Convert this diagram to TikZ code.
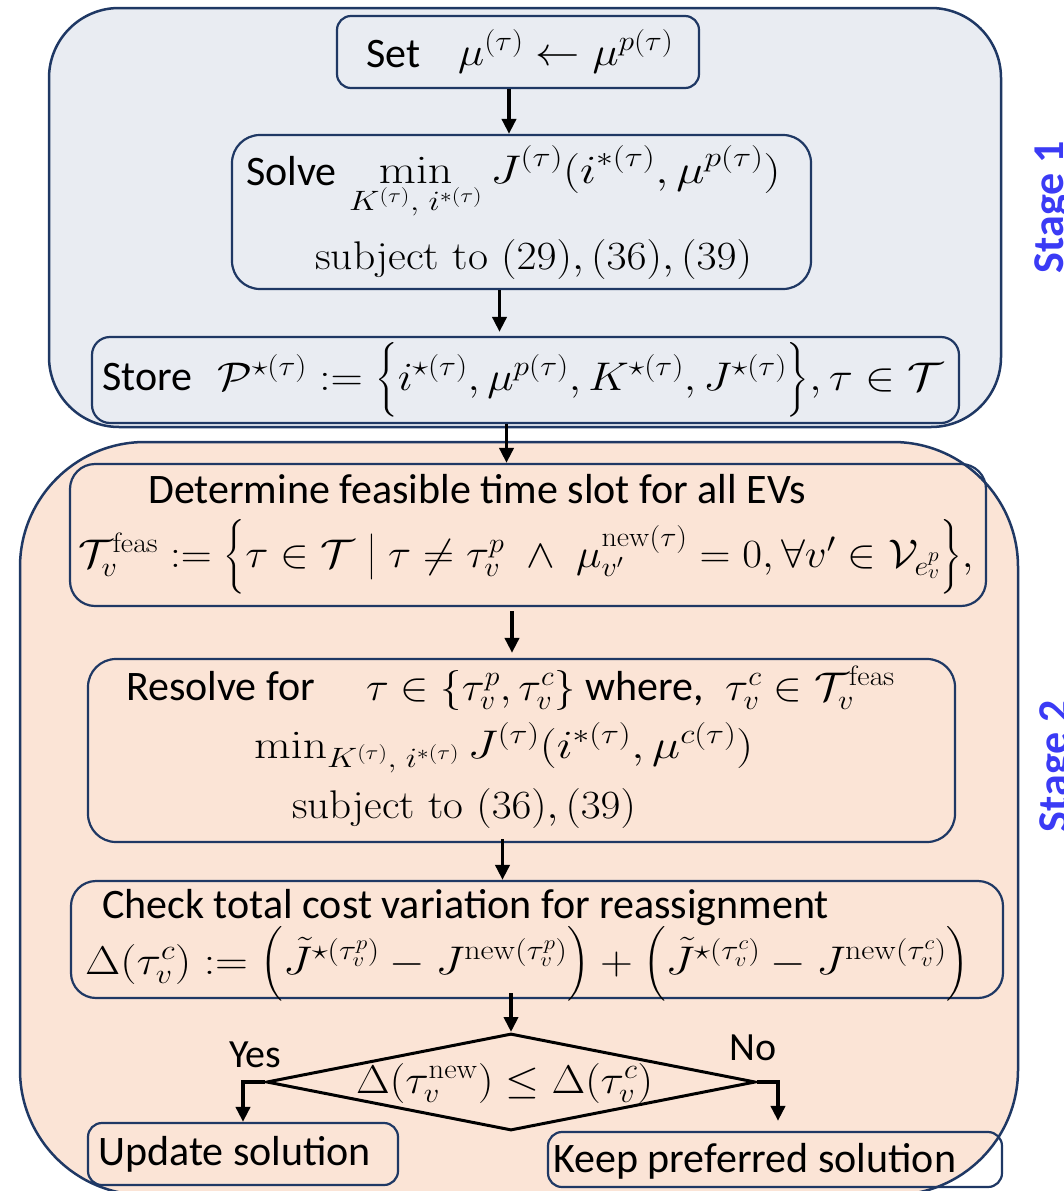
\RequirePackage{fix-cm}
\documentclass[tikz,border=0pt]{standalone}
\usepackage{amsmath}
\usepackage{graphicx}
\usepackage[no-math]{fontspec}
\newfontfamily\carl{Carlito}
\usetikzlibrary{arrows.meta,shapes.geometric}
\definecolor{navy}{RGB}{31,56,100}
\definecolor{stageone}{RGB}{233,236,242}
\definecolor{stagetwo}{RGB}{251,228,214}
\definecolor{stageblue}{RGB}{59,59,245}
\newcommand\hsc[2]{\scalebox{#1}[1]{#2}}
\begin{document}
\begin{tikzpicture}[x=1pt,y=-1pt,
  frame/.style={rectangle,draw=navy,line width=2.5pt,inner sep=0pt},
  box/.style={rectangle,draw=navy,line width=2.2pt,inner sep=0pt},
  arr/.style={line width=3.8pt,-{Triangle[length=15pt,width=14pt]}},
  txt/.style={inner sep=0pt,anchor=base west,font=\carl\fontsize{42}{50}\selectfont},
  mth/.style={inner sep=0pt,anchor=base west,font=\fontsize{40}{48}\selectfont},
  yn/.style={inner sep=0pt,anchor=base west,font=\carl\fontsize{40}{48}\selectfont},
  stagelbl/.style={inner sep=0pt,rotate=90,anchor=base,text=stageblue,font=\carl\bfseries\fontsize{44}{50}\selectfont}
]
\useasboundingbox (0,0) rectangle (1064,1191);
\clip (0,0) rectangle (1064,1191);
% stage frames
\node[frame,fill=stageone,rounded corners=70pt,minimum width=952pt,minimum height=419pt] (st1) at (525,217.5) {};
\node[frame,fill=stagetwo,rounded corners=125pt,minimum width=998pt,minimum height=753pt] (st2) at (519,818.5) {};
\node[stagelbl] (lbl1) at (1063,207) {Stage 1};
\node[stagelbl] (lbl2) at (1068,766) {Stage 2};
% boxes
\node[box,rounded corners=14pt,minimum width=362pt,minimum height=72pt] (set) at (518,52) {};
\node[box,rounded corners=28pt,minimum width=579pt,minimum height=154pt] (solve) at (521.5,212) {};
\node[box,rounded corners=18pt,minimum width=867pt,minimum height=86pt] (store) at (525.5,380) {};
\node[box,rounded corners=25pt,minimum width=916pt,minimum height=142pt] (det) at (528,535) {};
\node[box,rounded corners=28pt,minimum width=867pt,minimum height=183pt] (res) at (521.5,750.5) {};
\node[box,rounded corners=25pt,minimum width=932pt,minimum height=117pt] (check) at (537,939.5) {};
\node[diamond,draw=black,line width=3pt,inner sep=0pt,minimum width=489pt,minimum height=97pt] (dia) at (511,1082) {};
\node[box,rounded corners=14pt,minimum width=310pt,minimum height=62pt] (update) at (243,1154) {};
\node[box,rounded corners=14pt,minimum width=454pt,minimum height=55pt] (keep) at (775,1159.5) {};
% texts
\node[txt] (setT) at (366,67) {Set};
\node[mth] (setM) at (458,65) {\hsc{1.11}{$\mu^{(\tau)} \leftarrow \mu^{p(\tau)}$}};
\node[txt] (solveT) at (246,185) {Solve};
\node[mth] (solveM) at (349,183) {\hsc{1.2}{$\displaystyle\min_{K^{(\tau)},\; i^{*(\tau)}} J^{(\tau)}(i^{*(\tau)}, \mu^{p(\tau)})$}};
\node[mth] (solveS) at (315,269) {\hsc{1.09}{subject to $(29), (36), (39)$}};
\node[txt] (storeT) at (102,390) {Store};
\node[mth] (storeM) at (217,390) {\hsc{1.12}{$\mathcal{P}^{\star(\tau)} := \Bigl\{ i^{\star(\tau)}, \mu^{p(\tau)}, K^{\star(\tau)}, J^{\star(\tau)} \Bigr\}, \tau \in \mathcal{T}$}};
\node[txt] (detT) at (148,503) {Determine feasible time slot for all EVs};
\node[mth] (detM) at (78,567) {\hsc{1.075}{$\mathcal{T}_v^{\mathrm{feas}} := \Bigl\{ \tau \in \mathcal{T} \;\big|\; \tau \neq \tau_v^p \;\wedge\; \mu_{v'}^{\mathrm{new}(\tau)} = 0, \forall v' \in \mathcal{V}_{e_v^p} \Bigr\},$}};
\node[txt] (resT) at (126,700) {Resolve for};
\node[mth] (resM1) at (366,700) {\hsc{1.06}{$\tau \in \{\tau_v^p, \tau_v^c\}$}};
\node[txt] (resW) at (585,700) {where,};
\node[mth] (resM2) at (725,700) {\hsc{1.08}{$\tau_v^c \in \mathcal{T}_v^{\mathrm{feas}}$}};
\node[mth] (resM3) at (254,758) {\hsc{1.19}{$\min_{K^{(\tau)},\; i^{*(\tau)}} J^{(\tau)}(i^{*(\tau)}, \mu^{c(\tau)})$}};
\node[mth] (resS) at (292,818) {\hsc{1.08}{subject to $(36), (39)$}};
\node[txt] (checkT) at (102,918) {Check total cost variation for reassignment};
\node[mth] (checkM) at (85,974) {\hsc{1.14}{$\Delta(\tau_v^c) := \Bigl(\tilde{J}^{\star(\tau_v^p)} - J^{\mathrm{new}(\tau_v^p)}\Bigr) + \Bigl(\tilde{J}^{\star(\tau_v^c)} - J^{\mathrm{new}(\tau_v^c)}\Bigr)$}};
\node[mth] (diaM) at (356,1093) {\hsc{1.09}{$\Delta(\tau_v^{\mathrm{new}}) \le \Delta(\tau_v^c)$}};
\node[yn] (yes) at (229,1067) {Yes};
\node[yn] (no) at (729,1060) {No};
\node[txt] (updT) at (98,1165) {Update solution};
\node[txt] (keepT) at (553,1172) {Keep preferred solution};
% arrows
\draw[arr] ([xshift=-9pt]set.south) -- ([xshift=-9pt]set.south |- solve.north) ;
\draw[arr] ([xshift=-22pt]solve.south) -- ([xshift=-22pt,yshift=4pt]solve.south |- store.north);
\draw[arr] ([xshift=-19pt]store.south) -- ([xshift=-19pt]store.south |- det.north);
\draw[arr] ([xshift=-16pt,yshift=-4pt]det.south) -- ([xshift=-16pt,yshift=5pt]det.south |- res.north);
\draw[arr] ([xshift=-19pt,yshift=4pt]res.south) -- ([xshift=-19pt]res.south |- check.north);
\draw[arr] ([yshift=6pt]dia.north |- check.south) -- (dia.north);
\draw[arr] (dia.west) -| (update.north);
\draw[arr,shorten >=10pt] (dia.east) -| ([xshift=3pt]keep.north);
\end{tikzpicture}
\end{document}
